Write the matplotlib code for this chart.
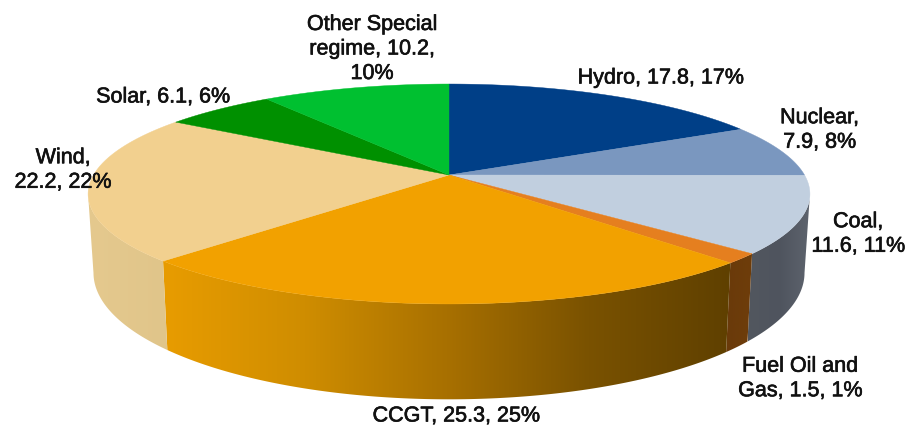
import matplotlib
matplotlib.use("Agg")
import matplotlib.pyplot as plt
import matplotlib.patheffects as pe
import numpy as np
from matplotlib.colors import LinearSegmentedColormap
from matplotlib.patches import Polygon

plt.rcParams["font.family"] = ["Liberation Sans", "DejaVu Sans"]

# clockwise from 12 o'clock
names = ["Hydro", "Nuclear", "Coal", "Fuel Oil and Gas", "CCGT", "Wind", "Solar", "Other Special regime"]
values = [17.8, 7.9, 11.6, 1.5, 25.3, 22.2, 6.1, 10.2]
percents = [17, 8, 11, 1, 25, 22, 6, 10]
top_colors = ["#003f87", "#7a97bf", "#c1cfdf", "#e57f1f", "#f2a100", "#f2d08f", "#009000", "#00c030"]
side_colors = {
    "Coal": ["#52575f", "#4f545e", "#5e646e"],
    "Fuel Oil and Gas": ["#6a3a0a", "#6e3d0a"],
    "CCGT": ["#e89c00", "#cf8d00", "#a87000", "#7a5200", "#5f4000"],
    "Wind": ["#e5c98e", "#e0c58a"],
}
label_text = [
    "Hydro, 17.8, 17%",
    "Nuclear,\n7.9, 8%",
    "Coal,\n11.6, 11%",
    "Fuel Oil and\nGas, 1.5, 1%",
    "CCGT, 25.3, 25%",
    "Wind,\n22.2, 22%",
    "Solar, 6.1, 6%",
    "Other Special\nregime, 10.2,\n10%",
]
label_pos = [(660.5, 79), (819.5, 131), (858, 235), (800, 379.5), (456, 417), (63, 171), (163, 98), (372, 50)]

# pie geometry in image pixels, the tilt is a simple perspective on the unit circle
APEX_X, APEX_Y = 449, 176
RADIUS = 355.5
PERSP = -0.1727
STRETCH = 76.3


def project(theta):
    u, v = np.sin(theta), -np.cos(theta)
    d = 1 + PERSP * v
    return APEX_X + RADIUS * u / d, (STRETCH * v + APEX_Y) / d


def lower(x, y):
    return APEX_X + (x - APEX_X) * 0.985, y + 76 + 0.15 * (y - APEX_Y)


fig = plt.figure(figsize=(9.05, 4.27), dpi=100)
ax = fig.add_axes([0, 0, 1, 1])
ax.set_xlim(0, 905)
ax.set_ylim(427, 0)
ax.axis("off")

edges = np.cumsum([0] + values) / sum(values) * 2 * np.pi
left_limit, right_limit = np.radians(260), np.radians(100)

# sides first, only the front part of the rim shows
for i, name in enumerate(names):
    if name not in side_colors:
        continue
    t = np.linspace(max(edges[i], right_limit), min(edges[i + 1], left_limit), 120)
    x, y = project(t)
    xb, yb = lower(x, y)
    poly = Polygon(np.r_[np.c_[x, y], np.c_[xb, yb][::-1]], closed=True, fc="none", ec="none")
    ax.add_patch(poly)
    cmap = LinearSegmentedColormap.from_list(name, side_colors[name])
    grad = np.linspace(0, 1, 256).reshape(1, -1)
    xs = np.r_[x, xb]
    im = ax.imshow(grad, cmap=cmap, aspect="auto", zorder=2, vmin=0, vmax=1,
                   extent=[xs.min(), xs.max(), 427, 0])
    im.set_clip_path(poly)

# top face
for i, color in enumerate(top_colors):
    t = np.linspace(edges[i], edges[i + 1], 120)
    x, y = project(t)
    pts = np.r_[[[APEX_X, APEX_Y]], np.c_[x, y]]
    ax.add_patch(Polygon(pts, closed=True, fc=color, ec=color, lw=0.3, zorder=3))

ax.set_xlim(0, 905)
ax.set_ylim(427, 0)

for text, (tx, ty) in zip(label_text, label_pos):
    ax.text(tx, ty, text, ha="center", va="center", fontsize=15.5, color="#111111",
            linespacing=1.22, zorder=5,
            path_effects=[pe.withStroke(linewidth=0.45, foreground="#111111")])

fig.savefig("out.png", dpi=100)
plt.close(fig)
